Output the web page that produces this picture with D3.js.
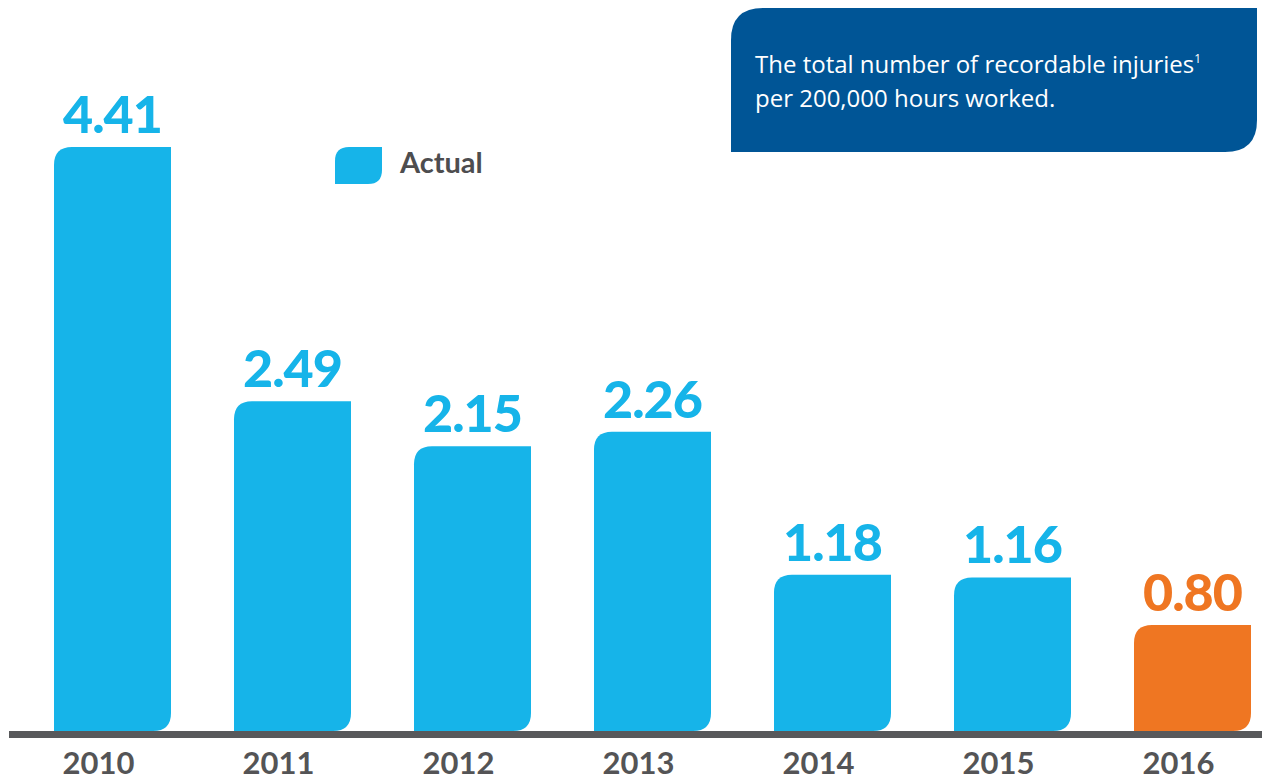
<!DOCTYPE html>
<html><head><meta charset="utf-8">
<script src="https://cdn.jsdelivr.net/npm/d3@7"></script>
<style>body{margin:0;background:#fff}svg{display:block}</style>
</head><body>
<script>
const years = ["2010","2011","2012","2013","2014","2015","2016"];
const values = [4.41, 2.49, 2.15, 2.26, 1.18, 1.16, 0.80];
const labels = ["4.41","2.49","2.15","2.26","1.18","1.16","0.80"];
const highlight = ["2016"];
const legendLabel = "Actual";
const noteLines = ["The total number of recordable injuries", "per 200,000 hours worked."];

const W = 1262, H = 781;
const svg = d3.select("body").append("svg").attr("width", W).attr("height", H);
const blue = "#16b4e9", orange = "#ef7622", grey = "#58595b";

const x = d3.scaleBand().domain(years).range([54, 1251]).paddingInner(0.35).paddingOuter(0);
const y = d3.scaleLinear().domain([0, 4.41]).range([731, 147]);

function leaf(x0, y0, w, h, r) {
  r = Math.min(r, w/2, h/2);
  return `M${x0},${y0+h} L${x0},${y0+r} Q${x0},${y0} ${x0+r},${y0} L${x0+w},${y0} L${x0+w},${y0+h-r} Q${x0+w},${y0+h} ${x0+w-r},${y0+h} Z`;
}

// bars
svg.append("g").selectAll("path").data(years).join("path")
  .attr("d", (d,i) => leaf(x(d), y(values[i]), x.bandwidth(), y(0)-y(values[i]), 18))
  .attr("fill", d => highlight.includes(d) ? orange : blue);

// value labels
svg.append("g").selectAll("text").data(years).join("text")
  .attr("x", d => x(d) + x.bandwidth()/2)
  .attr("y", (d,i) => y(values[i]) - 14)
  .attr("text-anchor", "middle")
  .attr("font-family", "Lato, 'Open Sans', sans-serif")
  .attr("font-weight", 900)
  .attr("font-size", 52)
  .attr("letter-spacing", -1)
  .attr("fill", d => highlight.includes(d) ? orange : blue)
  .text((d,i) => labels[i]);

// axis baseline
svg.append("rect").attr("x", 9).attr("y", 731).attr("width", W-9).attr("height", 7).attr("fill", grey);

// x axis labels
const xAxis = d3.axisBottom(x).tickSize(0).tickPadding(0);
const ax = svg.append("g").attr("transform", "translate(-14,751)").call(xAxis);
ax.select(".domain").remove();
ax.selectAll("text")
  .attr("dy", "0.75em")
  .attr("font-family", "Lato, 'Open Sans', sans-serif")
  .attr("font-weight", 700)
  .attr("font-size", 31)
  .attr("fill", "#545456");

// legend
svg.append("path").attr("d", leaf(335, 147, 47, 37, 14)).attr("fill", blue);
svg.append("text").attr("x", 400).attr("y", 173)
  .attr("font-family", "Lato, 'Open Sans', sans-serif").attr("font-weight", 700)
  .attr("font-size", 29).attr("fill", "#4d4d4f").text(legendLabel);

// note box
svg.append("path").attr("d", leaf(731, 8, 526, 144, 32)).attr("fill", "#005596");
const note = svg.append("text").attr("font-family", "'Open Sans', sans-serif")
  .attr("font-size", 24).attr("fill", "#fff");
note.append("tspan").attr("x", 755).attr("y", 73).text(noteLines[0]);
note.append("tspan").attr("dy", -10).attr("font-size", 12).text("1");
note.append("tspan").attr("x", 755).attr("y", 107).text(noteLines[1]);
</script>
</body></html>
